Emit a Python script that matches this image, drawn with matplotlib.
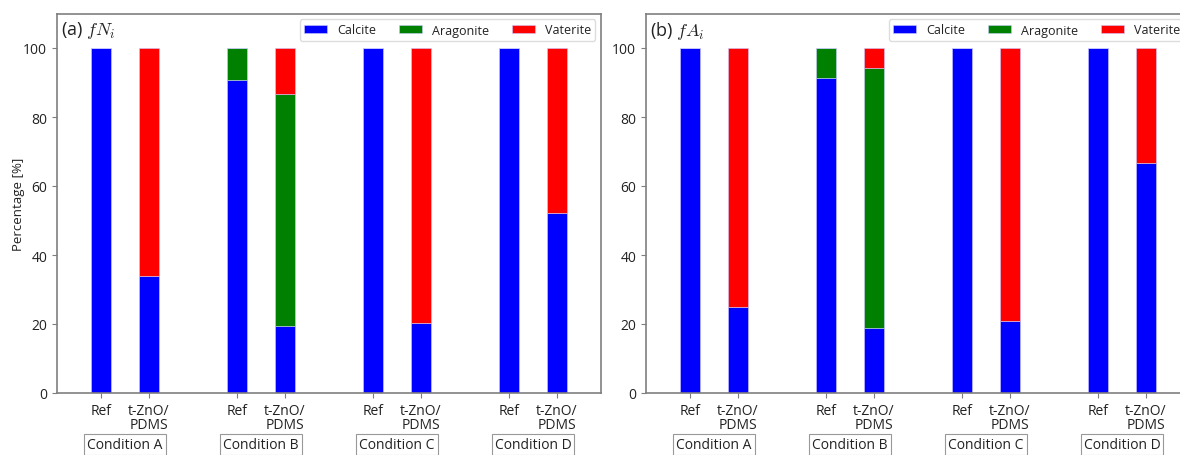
import matplotlib
matplotlib.use("Agg")
import matplotlib.pyplot as plt
import matplotlib.transforms as mtransforms
import numpy as np

plt.rcParams['font.family'] = ['Open Sans', 'DejaVu Sans']
plt.rcParams['mathtext.fontset'] = 'cm'

conditions = ["Condition A", "Condition B", "Condition C", "Condition D"]
samples = ["Ref", "t-ZnO/\nPDMS"]
phases = ["Calcite", "Aragonite", "Vaterite"]
colors = ["#0000ff", "#008000", "#ff0000"]

# order per condition: Ref, t-ZnO/PDMS
fN_calcite = [100, 34.0, 90.7, 19.4, 100, 20.3, 100, 52.2]
fN_aragonite = [0, 0, 9.3, 67.3, 0, 0, 0, 0]
fN_vaterite = [0, 66.0, 0, 13.3, 0, 79.7, 0, 47.8]

fA_calcite = [100, 25.0, 91.4, 18.7, 100, 20.8, 100, 66.8]
fA_aragonite = [0, 0, 8.6, 75.4, 0, 0, 0, 0]
fA_vaterite = [0, 75.0, 0, 5.9, 0, 79.2, 0, 33.2]

panels = [
    ("(a) ", r"$fN_i$", [fN_calcite, fN_aragonite, fN_vaterite]),
    ("(b) ", r"$fA_i$", [fA_calcite, fA_aragonite, fA_vaterite]),
]

fig = plt.figure(figsize=(11.8, 4.56), dpi=100)
axes_pos = [[57/1180, 62/456, 544/1180, 379.5/456],
            [646/1180, 62/456, 544/1180, 379.5/456]]

spine_col = "#7f7f7f"
offset = 0.175
width = 0.15

for pi, (lab, math, series) in enumerate(panels):
    ax = fig.add_axes(axes_pos[pi])
    xs = []
    for gi in range(len(conditions)):
        xs += [gi - offset, gi + offset]
    xs = np.array(xs)
    bottom = np.zeros(len(xs))
    for name, vals, c in zip(phases, series, colors):
        vals = np.array(vals, dtype=float)
        ax.bar(xs, vals, width=width, bottom=bottom, color=c, label=name,
               edgecolor="#ccccff", linewidth=0.4)
        bottom += vals
    ax.set_xlim(-0.5, len(conditions) - 0.5)
    ax.set_ylim(0, 110)
    ax.set_yticks([0, 20, 40, 60, 80, 100])
    ax.set_xticks(xs)
    ax.set_xticklabels(samples * len(conditions), fontsize=10, linespacing=0.95)
    ax.tick_params(axis='both', colors=spine_col, labelcolor="#222222", labelsize=10,
                   length=3.5, width=0.8)
    for s in ax.spines.values():
        s.set_color(spine_col)
        s.set_linewidth(1.2)
    if pi == 0:
        ax.set_ylabel("Percentage [%]", fontsize=9.5, color="#222222", labelpad=-1)
    ax.text(0.008, 0.985, lab + math, transform=ax.transAxes, fontsize=13,
            va='top', ha='left', color="#222222")
    trans = mtransforms.blended_transform_factory(ax.transData, ax.transAxes)
    for gi, cond in enumerate(conditions):
        ax.text(gi, -0.135, cond, transform=trans, ha='center', va='center',
                fontsize=10, color="#222222",
                bbox=dict(boxstyle='square,pad=0.22', facecolor='white',
                          edgecolor='#999999', linewidth=0.8))
    leg = ax.legend(loc='upper right', ncol=3, fontsize=9, handlelength=1.85,
                    handleheight=0.55, handletextpad=0.8, columnspacing=1.8,
                    borderaxespad=0.45, framealpha=1.0, edgecolor='#dddddd',
                    fancybox=True, borderpad=0.35)
    for t in leg.get_texts():
        t.set_color("#222222")

fig.savefig("out.png", dpi=100)
